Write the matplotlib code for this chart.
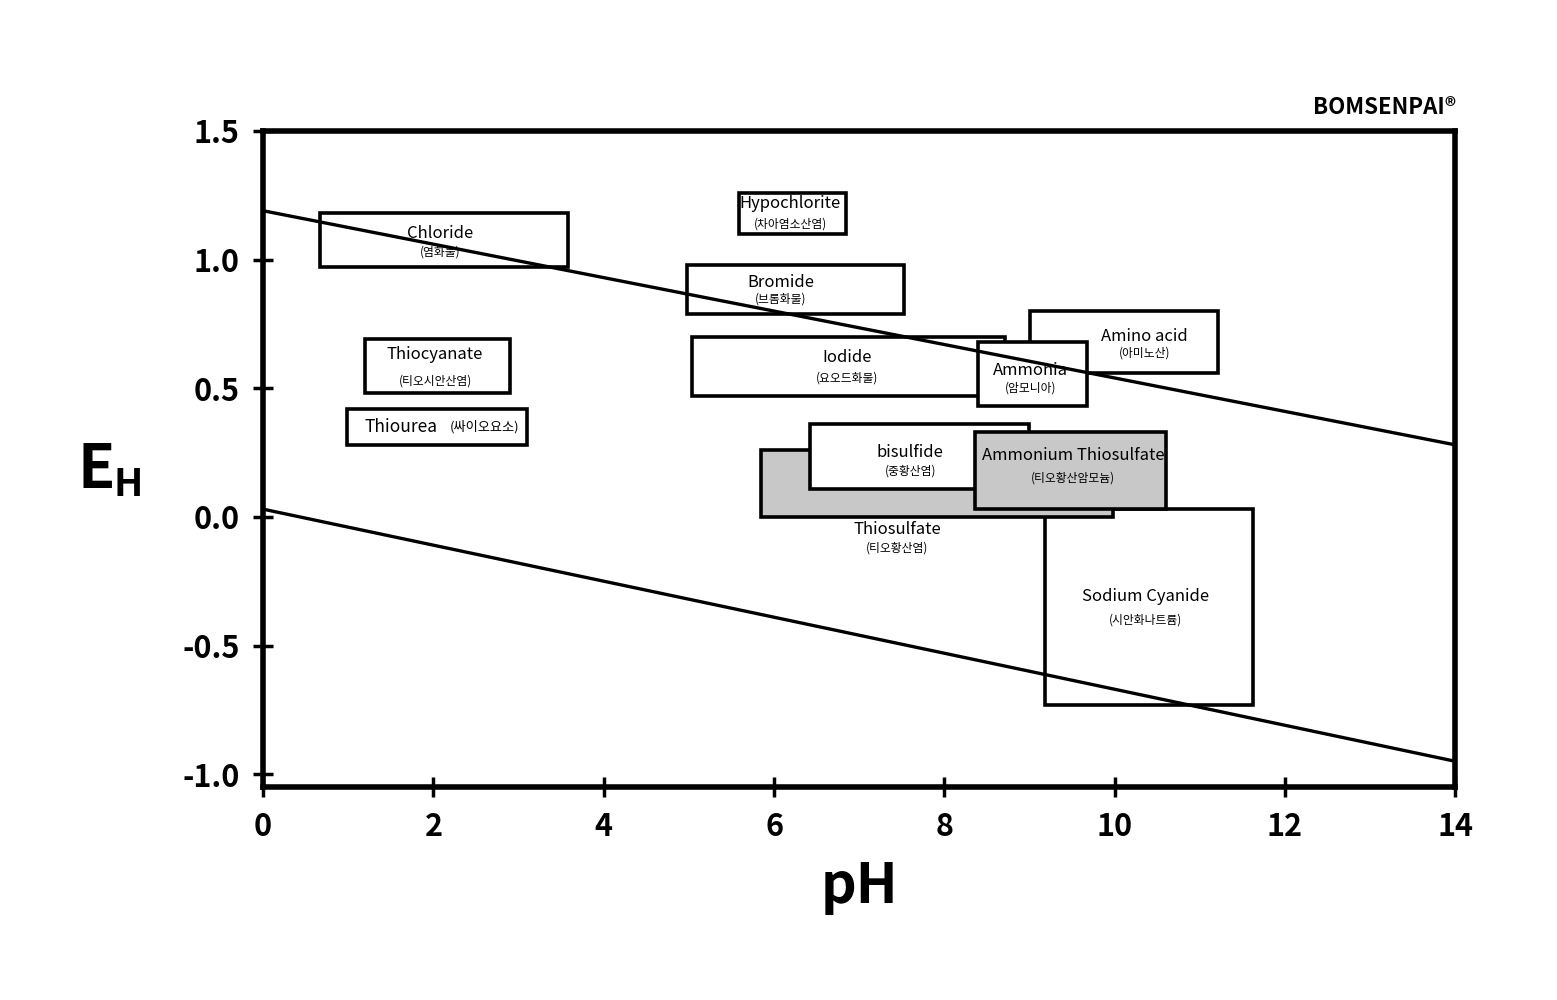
import matplotlib.pyplot as plt
from matplotlib.patches import Rectangle

plt.rcParams["font.family"] = ["Noto Sans CJK KR", "DejaVu Sans"]

# stability lines of water
line_ph = [0, 14]
upper_eh = [1.19, 0.28]
lower_eh = [0.03, -0.95]

# lixiviant boxes
names = ["Sodium Cyanide", "Thiosulfate", "bisulfide", "Ammonium Thiosulfate",
         "Iodide", "Amino acid", "Ammonia", "Chloride", "Hypochlorite",
         "Bromide", "Thiocyanate", "Thiourea"]
names_kr = ["(시안화나트륨)", "(티오황산염)", "(중황산염)", "(티오황산암모늄)",
            "(요오드화물)", "(아미노산)", "(암모니아)", "(염화물)", "(차아염소산염)",
            "(브롬화물)", "(티오시안산염)", "(싸이오요소)"]
ph_lo = [9.18, 5.85, 6.42, 8.36, 5.04, 9.01, 8.39, 0.67, 5.59, 4.98, 1.20, 0.99]
ph_hi = [11.63, 9.98, 8.99, 10.60, 8.71, 11.22, 9.68, 3.58, 6.85, 7.53, 2.90, 3.10]
eh_lo = [-0.73, 0.00, 0.11, 0.03, 0.47, 0.56, 0.43, 0.97, 1.10, 0.79, 0.48, 0.28]
eh_hi = [0.03, 0.26, 0.36, 0.33, 0.70, 0.80, 0.68, 1.18, 1.26, 0.98, 0.69, 0.42]
gray = [False, True, False, True, False, False, False, False, False, False, False, False]

# label anchors (pH, EH) of the english name
lab_ph = [10.36, 7.45, 7.60, 9.51, 6.86, 10.35, 9.01, 2.08, 6.19, 6.08, 2.02, 2.02]
lab_eh = [-0.31, -0.05, 0.25, 0.24, 0.62, 0.70, 0.57, 1.10, 1.22, 0.91, 0.63, 0.35]
kr_gap = [0.09, 0.07, 0.07, 0.09, 0.08, 0.065, 0.07, 0.07, 0.08, 0.065, 0.10, 0.0]
zorders = [1, 2, 3, 4, 2, 2, 3, 2, 2, 2, 2, 2]

fig = plt.figure(figsize=(15.57, 10), dpi=100)
ax = fig.add_axes([0.169, 0.213, 0.7656, 0.656])
ax.set_xlim(0, 14)
ax.set_ylim(-1.05, 1.5)

for i, name in enumerate(names):
    w = ph_hi[i] - ph_lo[i]
    h = eh_hi[i] - eh_lo[i]
    ax.add_patch(Rectangle((ph_lo[i], eh_lo[i]), w, h,
                           facecolor="#c8c8c8" if gray[i] else "white",
                           edgecolor="black", linewidth=2.6, zorder=zorders[i]))
    if name == "Thiourea":
        # name and korean on the same line
        ax.text(lab_ph[i] - 0.4, lab_eh[i], name, ha="center", va="center",
                fontsize=12.5, zorder=6)
        ax.text(lab_ph[i] + 0.58, lab_eh[i], names_kr[i], ha="center", va="center",
                fontsize=9.5, zorder=6)
        continue
    ax.text(lab_ph[i], lab_eh[i], name, ha="center", va="center",
            fontsize=12, zorder=6)
    ax.text(lab_ph[i], lab_eh[i] - kr_gap[i], names_kr[i], ha="center", va="center",
            fontsize=8.5, zorder=6)

ax.plot(line_ph, upper_eh, color="black", linewidth=2.4, zorder=5)
ax.plot(line_ph, lower_eh, color="black", linewidth=2.4, zorder=5)

for s in ax.spines.values():
    s.set_linewidth(4)

ax.set_xticks([0, 2, 4, 6, 8, 10, 12, 14])
ax.set_yticks([-1.0, -0.5, 0.0, 0.5, 1.0, 1.5])
ax.set_yticklabels(["-1.0", "-0.5", "0.0", "0.5", "1.0", "1.5"])
ax.tick_params(axis="both", direction="inout", length=14, width=2.5,
               labelsize=22, pad=10)
for lab in ax.get_xticklabels() + ax.get_yticklabels():
    lab.set_fontweight("bold")

ax.set_xlabel("pH", fontsize=40, fontweight="bold", labelpad=12)
fig.text(0.05, 0.53, "E", fontsize=44, fontweight="bold", ha="left", va="center")
fig.text(0.073, 0.515, "H", fontsize=28, fontweight="bold", ha="left", va="center")
fig.text(0.935, 0.893, "BOMSENPAI®", fontsize=16, fontweight="bold",
         ha="right", va="center")

fig.savefig("out.png", dpi=100)
